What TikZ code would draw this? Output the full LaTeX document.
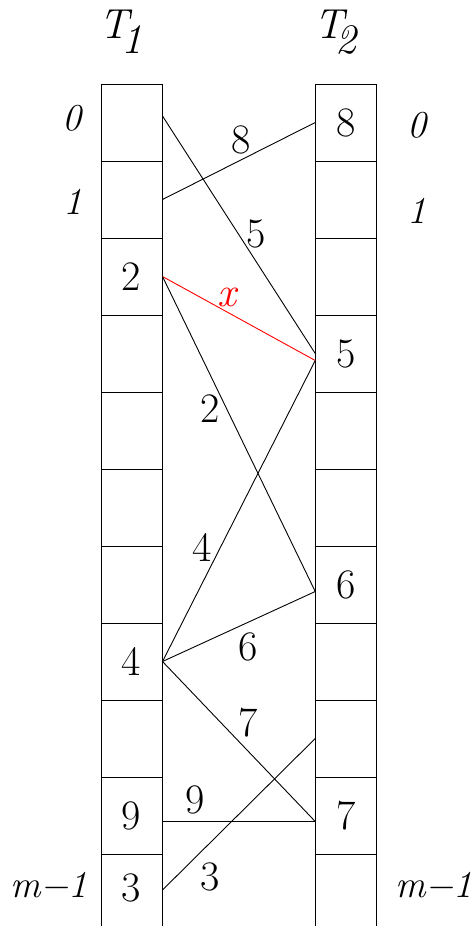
\documentclass[tikz,border=0pt]{standalone}
\usepackage{fontspec}
\setmainfont{Latin Modern Roman}
\begin{document}
\begin{tikzpicture}[x=1pt,y=-1pt,
  cell/.style={draw, line width=1pt, minimum width=61pt, minimum height=77pt, inner sep=0pt, font=\fontsize{42}{42}\selectfont},
  conn/.style={line width=0.9pt, line cap=round},
  elab/.style={anchor=base, inner sep=0pt, font=\fontsize{42}{42}\selectfont},
  rlab/.style={anchor=base, inner sep=0pt, font=\fontsize{38}{38}\selectfont\itshape},
  head/.style={anchor=base west, inner sep=0pt, font=\fontsize{42}{42}\selectfont\itshape}]
\clip (0,0) rectangle (472,926);
% cells
\foreach \k/\a/\b in {0/{}/8, 1/{}/{}, 2/2/{}, 3/{}/5, 4/{}/{}, 5/{}/{}, 6/{}/6, 7/4/{}, 8/{}/{}, 9/9/7, 10/{\raisebox{9pt}{3}}/{}} {
  \node[cell] (L\k) at (131.5, 122.5+77*\k) {\a};
  \node[cell] (R\k) at (346.25, 122.5+77*\k) {\b};
}
% headings
\node[head] (T1) at (99,38) {T\kern-7pt\raisebox{-15pt}{1}};
\node[head] (T2) at (314,38) {T\kern-8pt\raisebox{-15pt}{2}};
% row labels
\node[rlab] (l0) at (72,130) {0};
\node[rlab] (l1) at (73,214) {1};
\node[rlab] (r0) at (417,137) {0};
\node[rlab] (r1) at (417,223) {1};
\node[rlab] (lm) at (49,897) {m−1};
\node[rlab] (rm) at (434,897) {m−1};
% connectors
\draw[conn] ([yshift=6.5pt]L0.east) -- (R3.west);
\draw[conn] (L1.east) -- (R0.west);
\draw[conn,red] (L2.east) -- ([yshift=-7pt]R3.west);
\draw[conn] (L2.east) -- ([yshift=-7pt]R6.west);
\draw[conn] (L7.east) -- ([yshift=-7pt]R3.west);
\draw[conn] (L7.east) -- ([yshift=-7pt]R6.west);
\draw[conn] (L7.east) -- ([yshift=-6pt]R9.west);
\draw[conn] ([yshift=-6pt]L9.east) -- ([yshift=-6pt]R9.west);
\draw[conn] ([yshift=2.5pt]L10.east) -- (R8.west);
% connector labels
\node[elab] (e8) at (241,153) {8};
\node[elab] (e5) at (256,247) {5};
\node[elab,red,font=\fontsize{42}{42}\selectfont\itshape] (ex) at (227,306) {x};
\node[elab] (e2) at (210,422) {2};
\node[elab] (e4) at (202,561) {4};
\node[elab] (e6) at (248,660) {6};
\node[elab] (e7) at (248,736) {7};
\node[elab] (e9) at (195,813) {9};
\node[elab] (e3) at (210,890) {3};
\end{tikzpicture}
\end{document}
